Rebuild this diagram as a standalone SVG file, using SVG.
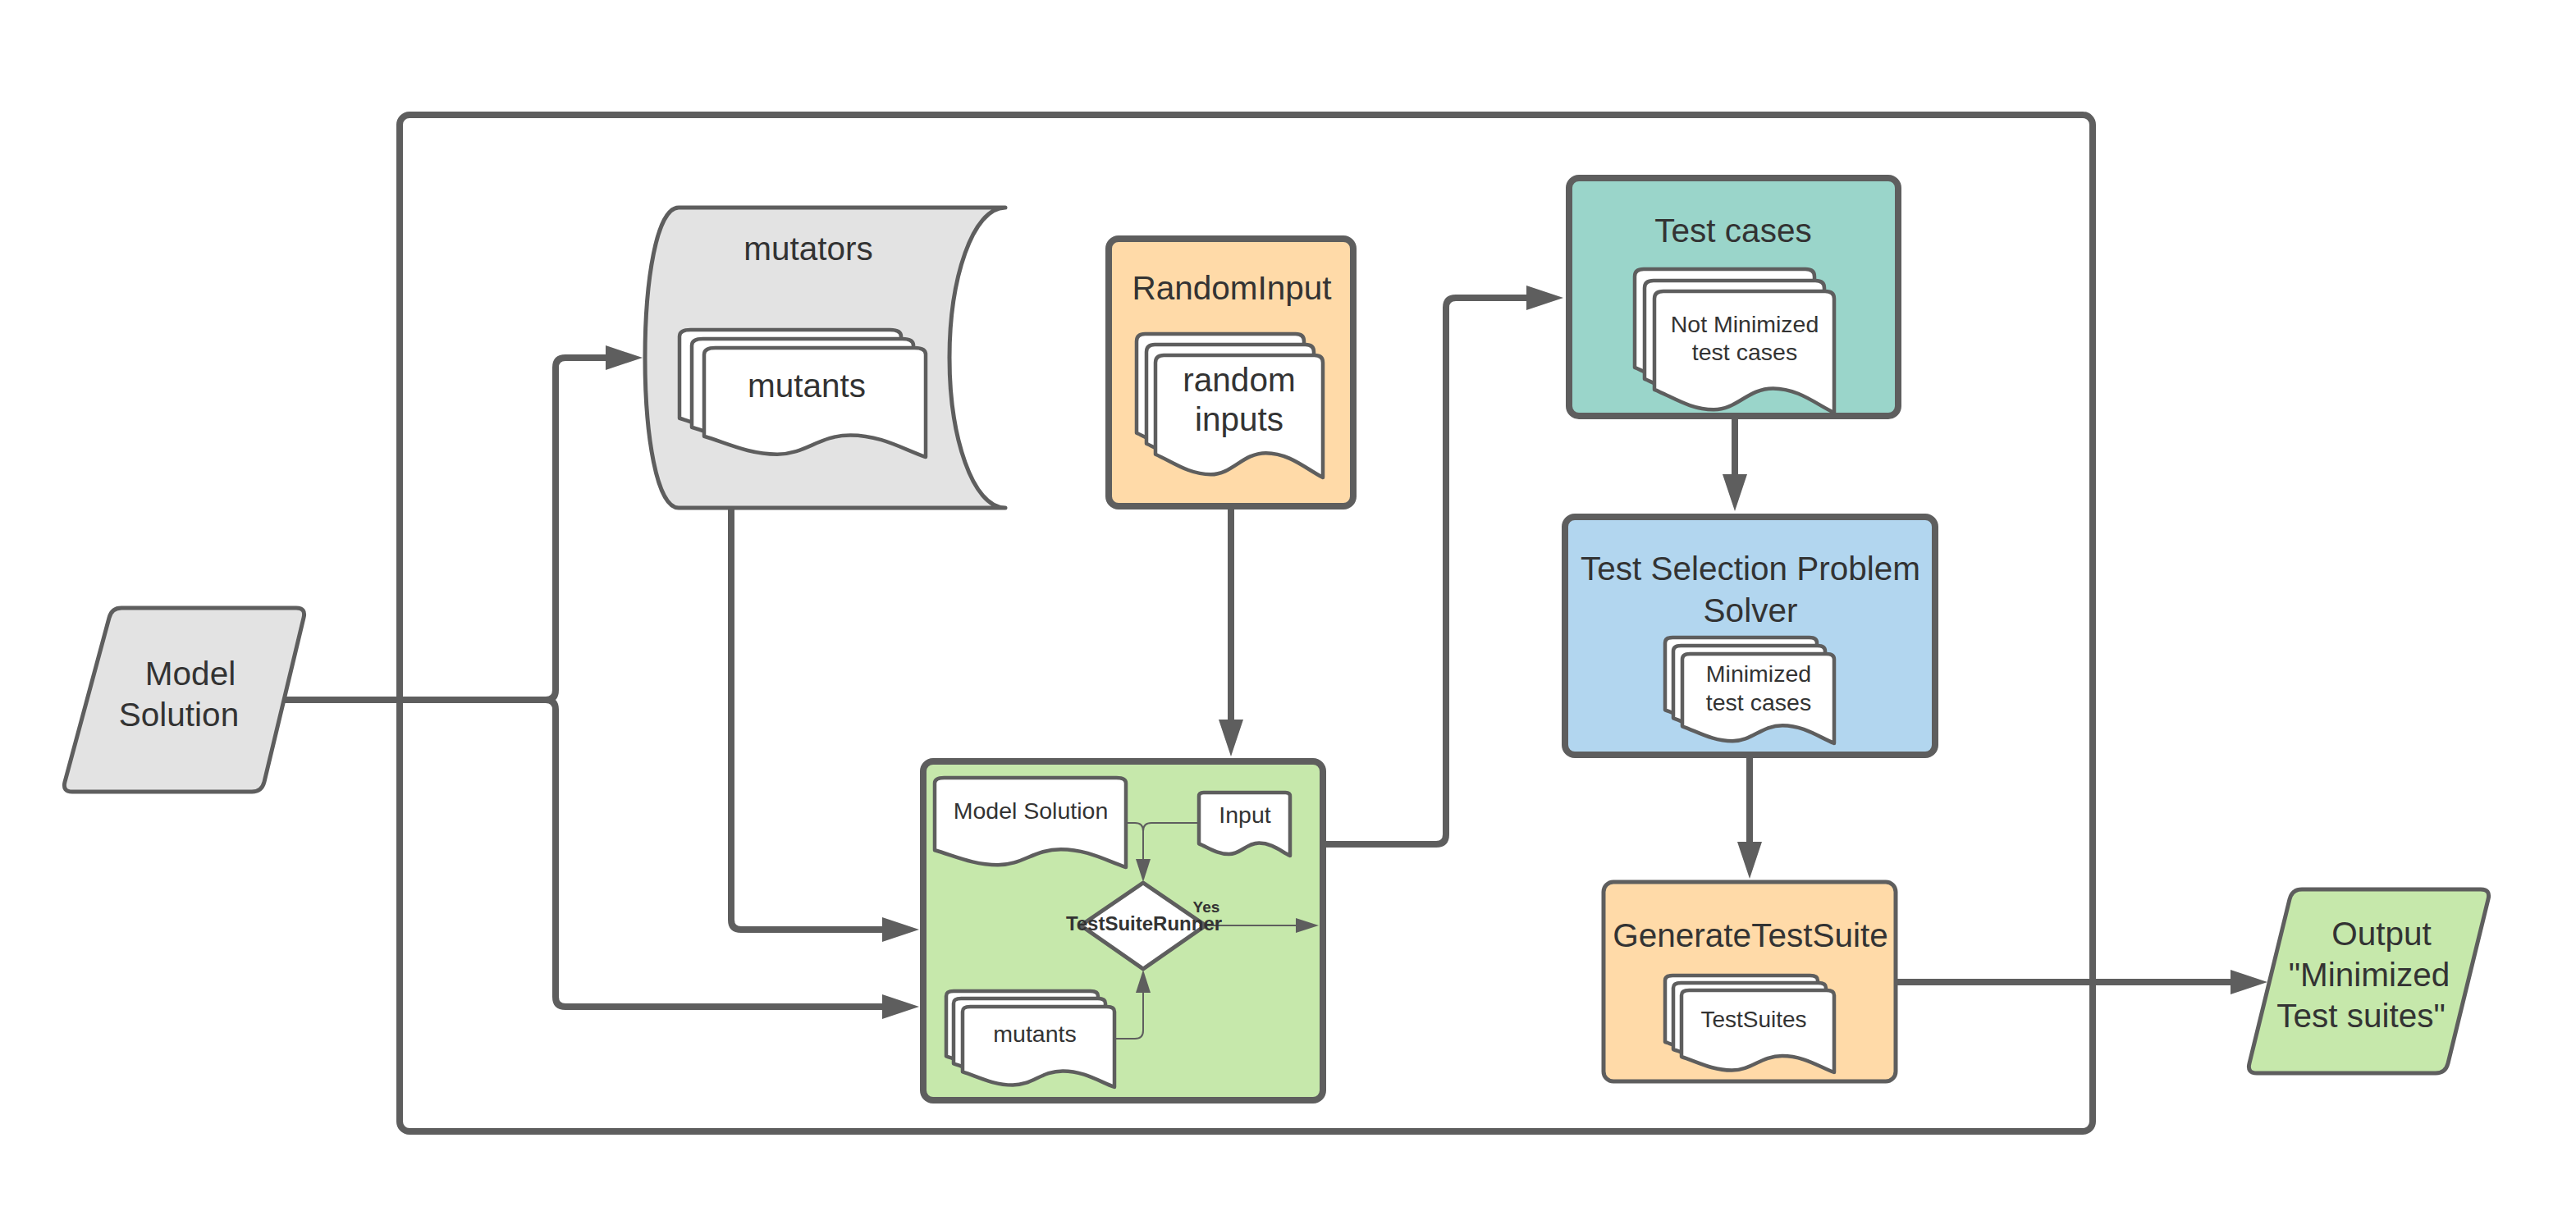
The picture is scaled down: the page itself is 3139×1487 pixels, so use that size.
<svg xmlns="http://www.w3.org/2000/svg" xmlns:xlink="http://www.w3.org/1999/xlink" width="3139" height="1487" viewBox="0 0 3139 1487">
<style>
.t{font-family:"Liberation Sans",Arial,sans-serif;fill:#333333;text-anchor:middle}
.big{font-size:40.5px}
.small{font-size:28.5px}
.box{stroke:#5e5e5e;stroke-width:8;stroke-linejoin:round}
.thin{stroke:#5e5e5e;stroke-width:5;stroke-linejoin:round}
.conn{fill:none;stroke:#5e5e5e;stroke-width:8;stroke-linejoin:round}
.conns{fill:none;stroke:#5e5e5e;stroke-width:2}
.docshape{fill:#ffffff;stroke:#5e5e5e;stroke-width:4.5;stroke-linejoin:round;vector-effect:non-scaling-stroke}
</style>
<defs>
<path id="doc" class="docshape" d="M0,81 L0,6 Q0,0 5,0 L95,0 Q100,0 100,6 L100,100 C90,93 80,80 66,80 C52,80 46,97.5 33,97.5 C20,97.5 10,87 0,81 Z"/>
<marker id="ah" markerUnits="userSpaceOnUse" markerWidth="46" markerHeight="30" viewBox="0 0 46 30" refX="5" refY="15" orient="auto"><path d="M0,0 L45,15 L0,30 Z" fill="#5e5e5e"/></marker>
<marker id="ahs" markerUnits="userSpaceOnUse" markerWidth="28" markerHeight="18" viewBox="0 0 28 18" refX="2" refY="9" orient="auto"><path d="M0,0 L28,9 L0,18 Z" fill="#5e5e5e"/></marker>
</defs>
<rect width="3139" height="1487" fill="#ffffff"/>

<g id="container">
<rect x="487" y="140" width="2063" height="1239" rx="12" fill="none" class="box"/>
</g>

<g id="connectors">
<path class="conn" d="M346,853 H665 Q677,853 677,841 V448 Q677,436 689,436 H743" marker-end="url(#ah)"/>
<path class="conn" d="M346,853 H665 Q677,853 677,865 V1215 Q677,1227 689,1227 H1080" marker-end="url(#ah)"/>
<path class="conn" d="M891,620 V1121 Q891,1133 903,1133 H1080" marker-end="url(#ah)"/>
<path class="conn" d="M1500,620 V882" marker-end="url(#ah)"/>
<path class="conn" d="M1612,1029 H1750 Q1762,1029 1762,1017 V375 Q1762,363 1774,363 H1865" marker-end="url(#ah)"/>
<path class="conn" d="M2114,505 V583" marker-end="url(#ah)"/>
<path class="conn" d="M2132,896 V1031" marker-end="url(#ah)"/>
<path class="conn" d="M2311,1197 H2723" marker-end="url(#ah)"/>
</g>

<g id="model-solution">
<path class="thin" fill="#e3e3e3" d="M148,741 H361 Q373,741 370,753 L322,953 Q319,965 307,965 H88 Q76,965 79,953 L133,753 Q136,741 148,741 Z"/>
<text class="t big" x="232" y="835">Model</text>
<text class="t big" x="218" y="885">Solution</text>
</g>

<g id="mutators">
<path class="thin" fill="#e3e3e3" d="M827,253 H1225 C1185,253 1157,340 1157,436 C1157,532 1185,619 1225,619 H827 C800,619 786,530 786,436 C786,342 800,253 827,253 Z"/>
<text class="t big" x="985" y="317">mutators</text>
<use href="#doc" xlink:href="#doc" transform="translate(828 402) scale(2.7 1.33)"/>
<use href="#doc" xlink:href="#doc" transform="translate(843 413) scale(2.7 1.33)"/>
<use href="#doc" xlink:href="#doc" transform="translate(858 424) scale(2.7 1.33)"/>
<text class="t big" x="983" y="484">mutants</text>
</g>

<g id="random-input">
<rect x="1351" y="291" width="298" height="326" rx="12" fill="#ffdaa8" class="box"/>
<text class="t big" x="1501" y="365">RandomInput</text>
<use href="#doc" xlink:href="#doc" transform="translate(1385 407) scale(2.04 1.49)"/>
<use href="#doc" xlink:href="#doc" transform="translate(1397 420) scale(2.04 1.49)"/>
<use href="#doc" xlink:href="#doc" transform="translate(1408 433) scale(2.04 1.49)"/>
<text class="t big" x="1510" y="477">random</text>
<text class="t big" x="1510" y="525">inputs</text>
</g>

<g id="test-suite-runner">
<rect x="1125" y="928" width="487" height="413" rx="12" fill="#c6e8ab" class="box"/>
<use href="#doc" xlink:href="#doc" transform="translate(1139 948) scale(2.33 1.09)"/>
<text class="t small" x="1256" y="998">Model Solution</text>
<use href="#doc" xlink:href="#doc" transform="translate(1461 966) scale(1.11 0.77)"/>
<text class="t small" x="1517" y="1003">Input</text>
<use href="#doc" xlink:href="#doc" transform="translate(1153 1208) scale(1.85 0.98)"/>
<use href="#doc" xlink:href="#doc" transform="translate(1162 1217) scale(1.85 0.98)"/>
<use href="#doc" xlink:href="#doc" transform="translate(1173 1227) scale(1.85 0.98)"/>
<text class="t small" x="1261" y="1270">mutants</text>
<path class="conns" d="M1372,1003 H1383 Q1393,1003 1393,1013 V1049" marker-end="url(#ahs)"/>
<path class="conns" d="M1461,1003 H1403 Q1393,1003 1393,1013"/>
<path class="conns" d="M1358,1266 H1383 Q1393,1266 1393,1256 V1208" marker-end="url(#ahs)"/>
<path class="conns" d="M1469,1128 H1581" marker-end="url(#ahs)"/>
<polygon points="1393,1076 1469,1128 1393,1181 1317,1128" fill="#ffffff" stroke="#5e5e5e" stroke-width="5" stroke-linejoin="round"/>
<text class="t" x="1394" y="1134" font-size="24" font-weight="bold">TestSuiteRunner</text>
<text class="t" x="1470" y="1112" font-size="19" font-weight="bold">Yes</text>
</g>

<g id="test-cases">
<rect x="1912" y="217" width="401" height="290" rx="12" fill="#9ad5ca" class="box"/>
<text class="t big" x="2112" y="295">Test cases</text>
<use href="#doc" xlink:href="#doc" transform="translate(1992 328) scale(2.19 1.48)"/>
<use href="#doc" xlink:href="#doc" transform="translate(2004 342) scale(2.19 1.48)"/>
<use href="#doc" xlink:href="#doc" transform="translate(2016 355) scale(2.19 1.48)"/>
<text class="t small" x="2126" y="405">Not Minimized</text>
<text class="t small" x="2126" y="439">test cases</text>
</g>

<g id="test-selection-solver">
<rect x="1907" y="630" width="451" height="290" rx="12" fill="#b2d6ef" class="box"/>
<text class="t big" x="2133" y="707">Test Selection Problem</text>
<text class="t big" x="2133" y="758">Solver</text>
<use href="#doc" xlink:href="#doc" transform="translate(2029 777) scale(1.85 1.09)"/>
<use href="#doc" xlink:href="#doc" transform="translate(2039 787) scale(1.85 1.09)"/>
<use href="#doc" xlink:href="#doc" transform="translate(2050 797) scale(1.85 1.09)"/>
<text class="t small" x="2143" y="831">Minimized</text>
<text class="t small" x="2143" y="866">test cases</text>
</g>

<g id="generate-test-suite">
<rect x="1954" y="1075" width="356" height="243" rx="12" fill="#ffdaa8" class="thin"/>
<text class="t big" x="2133" y="1154">GenerateTestSuite</text>
<use href="#doc" xlink:href="#doc" transform="translate(2029 1189) scale(1.86 1.0)"/>
<use href="#doc" xlink:href="#doc" transform="translate(2039 1198) scale(1.86 1.0)"/>
<use href="#doc" xlink:href="#doc" transform="translate(2049 1207) scale(1.86 1.0)"/>
<text class="t" x="2137" y="1252" font-size="28">TestSuites</text>
</g>

<g id="output">
<path class="thin" fill="#c6e8ab" d="M2805,1084 H3023 Q3035,1084 3032,1096 L2983,1296 Q2980,1308 2968,1308 H2750 Q2738,1308 2741,1296 L2790,1096 Q2793,1084 2805,1084 Z"/>
<text class="t big" x="2902" y="1152">Output</text>
<text class="t big" x="2887" y="1202">"Minimized</text>
<text class="t big" x="2877" y="1252">Test suites"</text>
</g>
</svg>
